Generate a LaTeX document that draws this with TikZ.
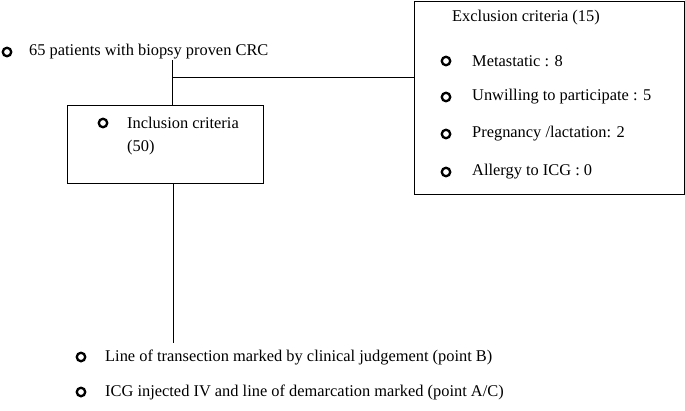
\documentclass[tikz,border=0pt]{standalone}
\usepackage{fontspec}
\setmainfont{Liberation Serif}
\usetikzlibrary{positioning}

\begin{document}
\begin{tikzpicture}[
    x=1pt, y=-1pt,
    txt/.style={anchor=west, inner sep=0pt, font=\fontsize{16.4}{19}\selectfont},
    dot/.style={circle, draw, line width=2.3pt, minimum size=8.5pt, inner sep=0pt},
    frame/.style={draw, line width=0.9pt, inner sep=0pt},
    link/.style={line width=0.9pt}
]
\useasboundingbox (0,0) rectangle (685,410);

% patients
\node[dot] (b0) at (7,52) {};
\node[txt] (pts) at (29,52) {65 patients with biopsy proven CRC};

% inclusion box
\node[frame, minimum width=196pt, minimum height=78pt] (incl) at (165,144) {};
\node[dot] (b1) at (103,123) {};
\node[txt] (inc1) at (127,123) {Inclusion criteria};
\node[txt] (inc2) at (127,148) {(50)};

% exclusion box
\node[frame, minimum width=270pt, minimum height=193pt] (excl) at (549,97.5) {};
\node[txt] (exhead) at (452,18) {Exclusion criteria (15)};
\foreach \y/\t [count=\i] in {61/{Metastatic : 8},
                              97/{Unwilling to participate : 5},
                              134/{Pregnancy /lactation: 2},
                              172/{Allergy to ICG : 0}}{
  \node[dot] (eb\i) at (446,\y) {};
  \node[txt] (ex\i) at (472,\y) {\t};
}

% outcome lines
\node[dot] (b2) at (81,357) {};
\node[txt] (trans) at (105,357) {Line of transection marked by clinical judgement (point B)};
\node[dot] (b3) at (81,392) {};
\node[txt] (icg) at (105,392) {ICG injected IV and line of demarcation marked (point A/C)};

% connectors
\coordinate (split) at (172,77);
\coordinate (stop) at (173,343);
\draw[link] (172,60) -- (incl.north -| split);
\draw[link] (split) -- (split -| excl.west);
\draw[link] (incl.south -| stop) -- (stop);
\end{tikzpicture}
\end{document}
